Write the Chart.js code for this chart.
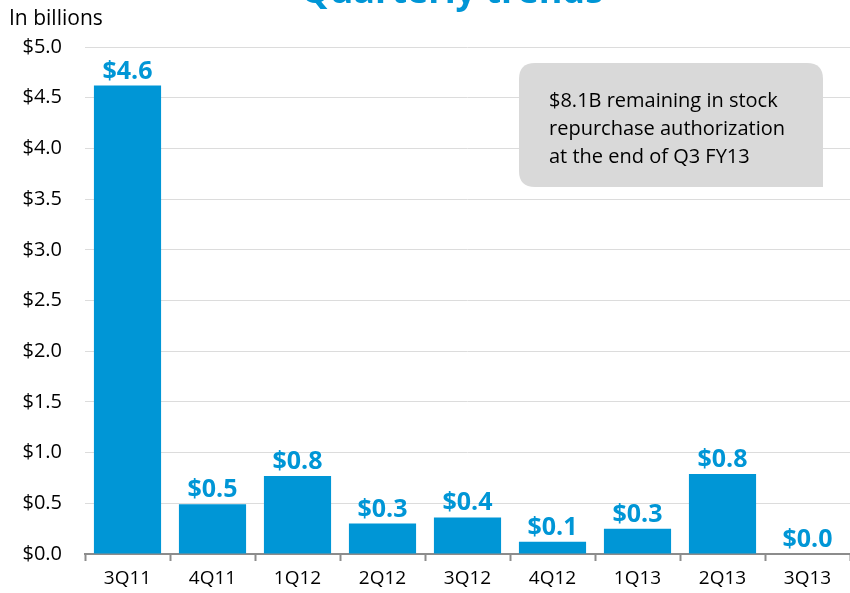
<!DOCTYPE html>
<html>
<head>
<meta charset="utf-8">
<script src="https://cdn.jsdelivr.net/npm/chart.js@4/dist/chart.umd.min.js"></script>
<style>
  html, body { margin: 0; padding: 0; background: #ffffff; }
  #wrap { position: relative; width: 850px; height: 593px; overflow: hidden; }
</style>
</head>
<body>
<div id="wrap"><canvas id="c" width="850" height="593"></canvas></div>
<script>
const categories = ['3Q11', '4Q11', '1Q12', '2Q12', '3Q12', '4Q12', '1Q13', '2Q13', '3Q13'];
const repurchases = [4.62, 0.49, 0.77, 0.30, 0.36, 0.12, 0.25, 0.79, 0.0];
const valueLabels = ['$4.6', '$0.5', '$0.8', '$0.3', '$0.4', '$0.1', '$0.3', '$0.8', '$0.0'];
const titleText = 'Quarterly trends';
const unitText = 'In billions';
const noteLines = ['$8.1B remaining in stock', 'repurchase authorization', 'at the end of Q3 FY13'];

const BLUE = '#0096d6';
const FONT = "'Open Sans', 'DejaVu Sans', sans-serif";

const valueLabelPlugin = {
  id: 'valueLabels',
  afterDatasetsDraw(chart) {
    const ctx = chart.ctx;
    const meta = chart.getDatasetMeta(0);
    ctx.save();
    ctx.font = 'bold 25px ' + FONT;
    ctx.fillStyle = BLUE;
    ctx.textAlign = 'center';
    ctx.textBaseline = 'alphabetic';
    meta.data.forEach((bar, i) => {
      ctx.fillText(valueLabels[i], bar.x, bar.y - 7);
    });
    ctx.restore();
  }
};

const headerPlugin = {
  id: 'header',
  afterDraw(chart) {
    const ctx = chart.ctx;
    const a = chart.chartArea;
    ctx.save();
    ctx.font = 'bold 36px ' + FONT;
    ctx.fillStyle = BLUE;
    ctx.textAlign = 'center';
    ctx.textBaseline = 'alphabetic';
    ctx.fillText(titleText, a.left + 367, 3);
    ctx.font = '21px ' + FONT;
    ctx.fillStyle = '#000000';
    ctx.textAlign = 'left';
    ctx.fillText(unitText, 9, 25);
    ctx.restore();
  }
};

const notePlugin = {
  id: 'note',
  afterDraw(chart) {
    const ctx = chart.ctx;
    const a = chart.chartArea;
    const x = a.left + 434, y = a.top + 16, w = 304, h = 124, r = 16;
    ctx.save();
    ctx.fillStyle = '#d9d9d9';
    ctx.beginPath();
    ctx.moveTo(x + r, y);
    ctx.lineTo(x + w - r, y);
    ctx.quadraticCurveTo(x + w, y, x + w, y + r);
    ctx.lineTo(x + w, y + h);
    ctx.lineTo(x + r, y + h);
    ctx.quadraticCurveTo(x, y + h, x, y + h - r);
    ctx.lineTo(x, y + r);
    ctx.quadraticCurveTo(x, y, x + r, y);
    ctx.closePath();
    ctx.fill();
    ctx.font = '20px ' + FONT;
    ctx.fillStyle = '#000000';
    ctx.textAlign = 'left';
    ctx.textBaseline = 'alphabetic';
    noteLines.forEach((line, i) => {
      ctx.fillText(line, x + 30, y + 44 + i * 28);
    });
    ctx.restore();
  }
};

new Chart(document.getElementById('c'), {
  type: 'bar',
  data: {
    labels: categories,
    datasets: [{
      data: repurchases,
      backgroundColor: BLUE,
      borderWidth: 0,
      barPercentage: 0.79,
      categoryPercentage: 1.0
    }]
  },
  options: {
    responsive: false,
    animation: false,
    devicePixelRatio: 1,
    layout: { padding: { top: 47, right: 0, bottom: 0, left: 0 } },
    plugins: {
      legend: { display: false },
      tooltip: { enabled: false },
      title: { display: false }
    },
    scales: {
      x: {
        afterFit(scale) { scale.height = 39; },
        grid: {
          display: true,
          drawOnChartArea: false,
          drawTicks: true,
          tickLength: 7,
          tickWidth: 2,
          tickColor: '#8c8c8c',
          offset: true
        },
        border: { display: true, color: '#8c8c8c', width: 2 },
        ticks: {
          color: '#000000',
          font: { family: FONT, size: 19 },
          padding: 6,
          maxRotation: 0
        }
      },
      y: {
        min: 0,
        max: 5,
        afterFit(scale) { scale.width = 85; },
        grid: {
          color: '#dcdcdc',
          lineWidth: 1,
          drawTicks: false
        },
        border: { display: false },
        ticks: {
          stepSize: 0.5,
          color: '#000000',
          padding: 23,
          font: { family: FONT, size: 20 },
          callback: (v) => '$' + Number(v).toFixed(1)
        }
      }
    }
  },
  plugins: [valueLabelPlugin, headerPlugin, notePlugin]
});
</script>
</body>
</html>
